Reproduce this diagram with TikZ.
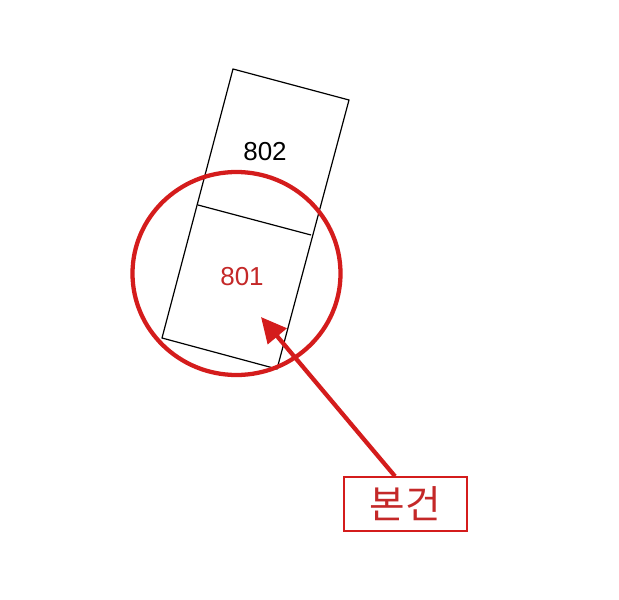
\documentclass[tikz,border=0pt]{standalone}
\usepackage{fontspec}
\setmainfont{Liberation Sans}
\newfontfamily\kofont{Noto Sans CJK KR}
\usetikzlibrary{arrows.meta}

\definecolor{markred}{RGB}{212,28,28}
\definecolor{labelred}{RGB}{196,40,40}

\begin{document}
\begin{tikzpicture}[x=0.75pt,y=0.75pt,yscale=-1,xscale=1,
  lotline/.style={draw=black, line width=0.9pt},
  marker/.style={draw=markred, line width=3.2pt},
  lotlabel/.style={inner sep=0.75pt, font=\fontsize{19.5}{19.5}\selectfont}]
\useasboundingbox (0,0) rectangle (619,600);

%Lot outline
\coordinate (tl) at (233,69);
\coordinate (tr) at (349,100);
\coordinate (br) at (277,369);
\coordinate (bl) at (162,338);
\draw [lotline] (tl) -- (tr) -- (br) -- (bl) -- cycle ;
%Divider between 801 and 802
\draw [lotline] (198,205) -- (311,235) ;

%Circle round 801
\draw [marker] (236.5,273.5) ellipse (104 and 101.5) ;

% Text Node
\node (n802) at (265,152) [lotlabel] {802};
% Text Node
\node (n801) at (242,277) [lotlabel, text=labelred] {801};

% Label box
\node (bongeon) at (405.5,504) [draw=markred, line width=1.6pt, minimum width=92pt, minimum height=40pt, inner sep=0pt, text=labelred, font=\kofont\fontsize{29}{29}\selectfont] {본건};
\coordinate (tip) at (261,317);
\draw [marker, -{Triangle[length=19pt,width=18pt]}] (bongeon.north -| 395,0) -- (tip) ;

\end{tikzpicture}
\end{document}
